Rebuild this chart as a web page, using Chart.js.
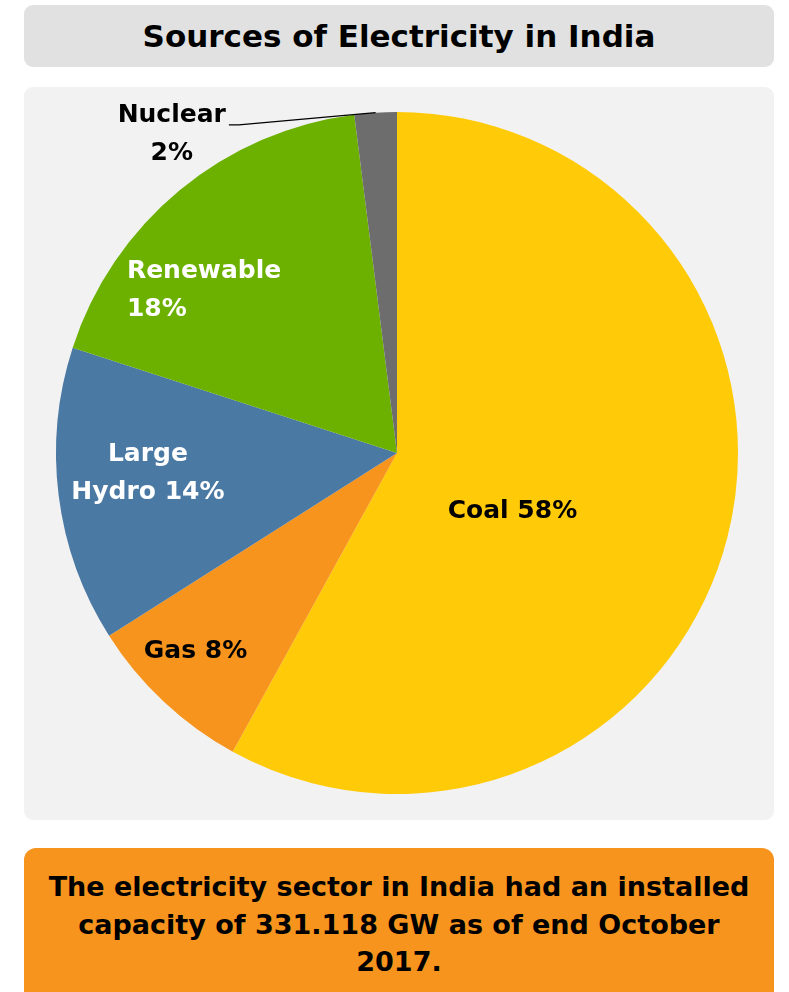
<!DOCTYPE html>
<html><head><meta charset="utf-8">
<script src="https://cdn.jsdelivr.net/npm/chart.js@4"></script>
<style>
html,body{margin:0;padding:0;background:#fff;width:789px;height:992px;overflow:hidden;font-family:"DejaVu Sans",sans-serif;}
#title{position:absolute;left:24px;top:5px;width:750px;height:62px;background:#e1e1e1;border-radius:9px;text-align:center;font-weight:bold;font-size:31px;line-height:62px;color:#000;}
#panel{position:absolute;left:24px;top:87px;width:750px;height:733px;background:#f2f2f2;border-radius:9px;}
#note{position:absolute;left:24px;top:848px;width:750px;height:160px;background:#f7941e;border-radius:12px;text-align:center;font-weight:bold;font-size:27px;line-height:37.5px;color:#000;box-sizing:border-box;padding-top:20px;}
#wrap{position:absolute;left:24px;top:87px;width:750px;height:733px;}
</style></head>
<body>
<div id="title">Sources of Electricity in India</div>
<div id="panel"></div>
<div id="wrap"><canvas id="c"></canvas></div>
<div id="note">The electricity sector in India had an installed<br>capacity of 331.118 GW as of end October<br>2017.</div>
<script>
const categories = ["Coal", "Gas", "Large Hydro", "Renewable", "Nuclear"];
const shares = [58, 8, 14, 18, 2];
const labelLines = [["Coal 58%"], ["Gas 8%"], ["Large", "Hydro 14%"], ["Renewable", "18%"], ["Nuclear", "2%"]];
const sliceColors = ["#ffca08", "#f7941e", "#4a79a3", "#6cb100", "#6d6d6d"];
const labelColors = ["#000", "#000", "#fff", "#fff", "#000"];

// label placement: angle adjustment (deg) from slice mid-angle, radius fraction, alignment
const labelAdj = [12.6, 2.2, 2.4, -19.3, -31.7];
const labelRad = [0.38, 0.83, 0.733, 0.925, 1.143];
const labelAlign = ["center", "center", "center", "left", "center"];

const labelPlugin = {
  id: 'sliceLabels',
  afterDatasetsDraw(chart) {
    const ctx = chart.ctx;
    const meta = chart.getDatasetMeta(0);
    ctx.save();
    ctx.font = 'bold 25px "DejaVu Sans", sans-serif';
    ctx.textBaseline = 'middle';
    const lh = 38;
    meta.data.forEach((arc, i) => {
      const p = arc.getProps(['x','y','startAngle','endAngle','outerRadius'], true);
      const mid = (p.startAngle + p.endAngle) / 2;
      const a = mid + labelAdj[i] * Math.PI / 180;
      const r = p.outerRadius * labelRad[i];
      const cx = p.x + Math.cos(a) * r;
      const cy = p.y + Math.sin(a) * r;
      const lines = labelLines[i];
      ctx.fillStyle = labelColors[i];
      ctx.textAlign = labelAlign[i];
      const y0 = cy - (lines.length - 1) * lh / 2;
      lines.forEach((t, k) => ctx.fillText(t, cx, y0 + k * lh));
      if (i === 4) {
        // leader line from slice edge to label
        const ex = p.x + Math.cos(mid) * p.outerRadius;
        const ey = p.y + Math.sin(mid) * p.outerRadius;
        const w = ctx.measureText(lines[0]).width;
        const lx = cx + w / 2 + 3;
        const ly = y0 + 9;
        ctx.strokeStyle = '#000';
        ctx.lineWidth = 1.3;
        ctx.beginPath();
        ctx.moveTo(lx, ly);
        ctx.lineTo(lx + 10, ly);
        ctx.lineTo(ex, ey);
        ctx.stroke();
      }
    });
    ctx.restore();
  }
};

new Chart(document.getElementById('c'), {
  type: 'pie',
  data: {
    labels: categories,
    datasets: [{ data: shares, backgroundColor: sliceColors, borderWidth: 0 }]
  },
  options: {
    responsive: true,
    maintainAspectRatio: false,
    animation: false,
    radius: 341,
    layout: { padding: { top: 25, bottom: 26, left: 0, right: 4 } },
    plugins: { legend: { display: false }, tooltip: { enabled: false } }
  },
  plugins: [labelPlugin]
});
</script>
</body></html>
